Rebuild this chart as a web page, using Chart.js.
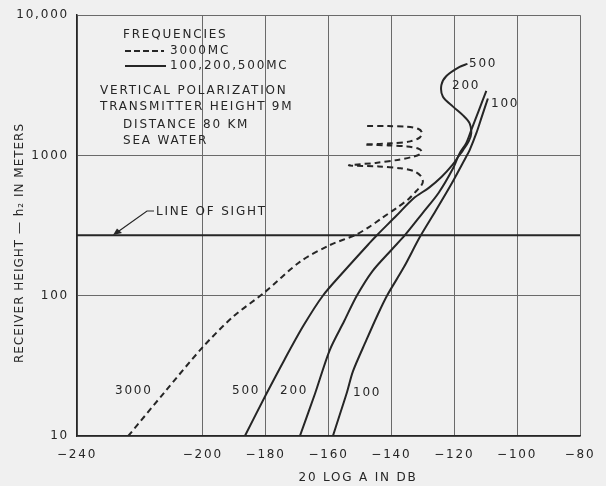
<!DOCTYPE html>
<html><head><meta charset="utf-8">
<script src="https://cdn.jsdelivr.net/npm/chart.js@4"></script>
<style>html,body{margin:0;padding:0;background:#f0f0f0;}#wrap{width:606px;height:486px;}canvas{display:block;}</style>
</head><body><div id="wrap"><canvas id="c" width="606" height="486"></canvas></div>
<script>
// ---- data ----
const xTicks = [-240, -220, -200, -180, -160, -140, -120, -100, -80];
const xTickLabels = ['−240', '', '−200', '−180', '−160', '−140', '−120', '−100', '−80'];
const yTicks = [10, 100, 1000, 10000];
const yTickLabels = ['10', '100', '1000', '10,000'];
const lineOfSight = 270;

const db3000 = [-223.7,-212,-200,-190.3,-180.5,-169,-159.5,-151.6,-147,-143,-138.5,-134.5,-132,-130.3,-130,-130.8,-133,-137,-144,-153.5,-145,-138,-133.5,-131,-130.4,-131.5,-135,-141,-148.5,-140,-134,-131,-130.3,-131.5,-135,-141,-148];
const h3000  = [10,20.7,43,71,105,175,230,270,310,358,420,490,560,620,660,720,775,810,835,850,885,930,975,1020,1070,1120,1160,1180,1195,1220,1260,1340,1460,1550,1605,1620,1625];

const db500 = [-186.6,-180,-174,-168,-161.8,-155,-146.9,-144.6,-138.5,-133,-128,-124,-120.5,-118.8,-117.2,-115.4,-114.6,-115.1,-117.2,-120.4,-123.6,-124.1,-122.5,-118.3,-115.8];
const h500  = [10,19.5,35,61,100,150,238,270,370,494,590,705,860,975,1092,1260,1435,1694,1930,2230,2620,3170,3690,4285,4500];

const db200 = [-169.1,-164.3,-159.6,-155,-151,-146,-140,-135.7,-130,-125,-120.5,-118.3,-116.2,-114.6,-112.2,-109.8];
const h200  = [10,20,41,66,100,150,212,270,390,540,800,1035,1225,1517,2090,2890];

const db100 = [-158.6,-156.5,-154.1,-152.2,-148,-144.5,-141.4,-136,-130.9,-126,-121,-116.2,-115.1,-113,-111.2,-109.3];
const h100  = [10,14,20.6,29,48,72,100,160,263,400,620,980,1092,1435,1900,2550];

// ---- style ----
const INK = '#262626';
const GRID = '#6a6a6a';
const FAM = '"DejaVu Sans", "Liberation Sans", sans-serif';
const FONT = '12px ' + FAM;
const LS = '1.8px';

const pts = (xs, ys) => xs.map((x, i) => ({x: x, y: ys[i]}));
const curve = (xs, ys, dash) => ({
  data: pts(xs, ys), showLine: true, borderColor: INK, borderWidth: 2,
  borderDash: dash || [], pointRadius: 0, tension: 0.3, fill: false
});

const annot = {
  id: 'annot',
  beforeDraw(chart) { chart.ctx.letterSpacing = LS; },
  afterDraw(chart) {
    const ctx = chart.ctx;
    ctx.save();
    ctx.letterSpacing = LS;
    ctx.fillStyle = INK; ctx.strokeStyle = INK;
    ctx.font = FONT; ctx.textBaseline = 'middle'; ctx.textAlign = 'left';
    const T = (s, x, y) => ctx.fillText(s, x, y);
    T('FREQUENCIES', 123, 35);
    ctx.lineWidth = 2;
    ctx.setLineDash([6, 3]);
    ctx.beginPath(); ctx.moveTo(125, 51); ctx.lineTo(164, 51); ctx.stroke();
    ctx.setLineDash([]);
    ctx.beginPath(); ctx.moveTo(125, 66); ctx.lineTo(166, 66); ctx.stroke();
    T('3000MC', 170, 51);
    T('100,200,500MC', 170, 66);
    T('VERTICAL POLARIZATION', 100, 91);
    T('TRANSMITTER HEIGHT 9M', 100, 107);
    T('DISTANCE 80 KM', 123, 125);
    T('SEA WATER', 123, 141);
    T('LINE OF SIGHT', 156, 212);
    // leader with arrow
    ctx.lineWidth = 1.2;
    ctx.beginPath(); ctx.moveTo(154, 211); ctx.lineTo(147, 211); ctx.lineTo(119, 231); ctx.stroke();
    ctx.beginPath(); ctx.moveTo(113, 235); ctx.lineTo(117, 228.5); ctx.lineTo(122, 233); ctx.closePath(); ctx.fill();
    // curve labels
    T('500', 469, 64);
    T('200', 452, 86);
    T('100', 491, 104);
    T('3000', 115, 391);
    T('500', 232, 391);
    T('200', 280, 391);
    T('100', 353, 393);
    // axis titles
    ctx.textAlign = 'center';
    T('20 LOG A IN DB', 358, 478);
    ctx.letterSpacing = '1px';
    ctx.translate(20, 243);
    ctx.rotate(-Math.PI / 2);
    T('RECEIVER HEIGHT — h₂ IN METERS', 0, 0);
    ctx.restore();
  }
};

new Chart(document.getElementById('c'), {
  type: 'scatter',
  data: {
    datasets: [
      curve(db3000, h3000, [6, 4]),
      curve(db500, h500),
      curve(db200, h200),
      curve(db100, h100),
      { data: [{x: xTicks[0], y: lineOfSight}, {x: xTicks[xTicks.length - 1], y: lineOfSight}],
        showLine: true, borderColor: INK, borderWidth: 2, pointRadius: 0, tension: 0 }
    ]
  },
  options: {
    responsive: false, animation: false, devicePixelRatio: 1,
    layout: { padding: { left: 0, right: 26, top: 15, bottom: 0 } },
    plugins: { legend: { display: false }, tooltip: { enabled: false } },
    scales: {
      x: {
        type: 'linear', min: xTicks[0], max: xTicks[xTicks.length - 1],
        afterBuildTicks: s => { s.ticks = xTicks.map(v => ({value: v})); },
        afterFit: s => { s.height = 50; },
        ticks: {
          autoSkip: false, maxRotation: 0, padding: 12, color: INK,
          font: { family: FAM, size: 12 },
          callback: v => { const i = xTicks.indexOf(v); return i < 0 ? '' : xTickLabels[i]; }
        },
        grid: {
          drawTicks: false, lineWidth: 1,
          color: c => (c.tick && c.tick.value === -220) ? 'rgba(0,0,0,0)' : GRID
        },
        border: { color: INK, width: 1.5 }
      },
      y: {
        type: 'logarithmic', min: yTicks[0], max: yTicks[yTicks.length - 1],
        afterBuildTicks: s => { s.ticks = yTicks.map(v => ({value: v})); },
        afterFit: s => { s.width = 77; },
        ticks: {
          autoSkip: false, padding: 8, color: INK,
          font: { family: FAM, size: 12 },
          callback: v => { const i = yTicks.indexOf(v); return i < 0 ? '' : yTickLabels[i]; }
        },
        grid: { drawTicks: false, lineWidth: 1, color: GRID },
        border: { color: INK, width: 1.5 }
      }
    }
  },
  plugins: [annot]
});
</script>
</body></html>
